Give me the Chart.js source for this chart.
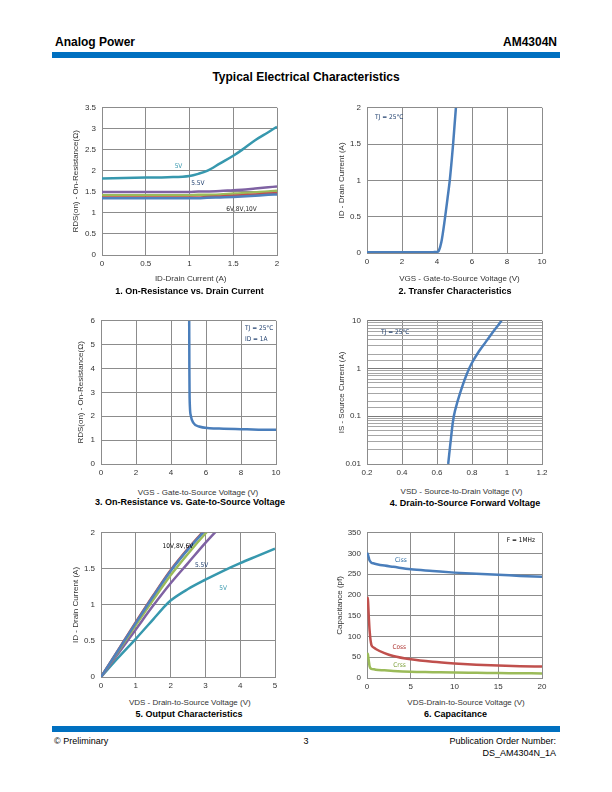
<!DOCTYPE html>
<html>
<head>
<meta charset="utf-8">
<script src="https://cdn.jsdelivr.net/npm/chart.js@4.4.1/dist/chart.umd.min.js"></script>
<style>
body { margin: 0; background: #fff; }
#page { position: relative; width: 612px; height: 792px; overflow: hidden; font-family: "Liberation Sans", Arial, sans-serif; color: #000; }
.t { position: absolute; white-space: nowrap; }
.bar { position: absolute; left: 52px; width: 508px; height: 6px; background: #0070C0; }
.cap { position: absolute; width: 240px; text-align: center; font-weight: bold; font-size: 9px; line-height: 12px; white-space: nowrap; }
.xt { position: absolute; width: 240px; text-align: center; font-size: 8px; line-height: 10px; color: #333; white-space: nowrap; }
canvas { position: absolute; }
</style>
</head>
<body>
<div id="page">
  <div class="t" style="left:55px;top:35px;font-size:12px;font-weight:bold;">Analog Power</div>
  <div class="t" style="right:55px;top:35px;font-size:12px;font-weight:bold;">AM4304N</div>
  <div class="bar" style="top:52px;"></div>
  <div class="t" style="left:0;width:612px;text-align:center;top:70px;font-size:12px;font-weight:bold;">Typical Electrical Characteristics</div>

  <canvas id="c1"></canvas>
  <canvas id="c2"></canvas>
  <canvas id="c3"></canvas>
  <canvas id="c4"></canvas>
  <canvas id="c5"></canvas>
  <canvas id="c6"></canvas>

  <div class="xt" style="left:70.7px;top:273.7px;">ID-Drain Current (A)</div>
  <div class="xt" style="left:339.5px;top:273.7px;">VGS - Gate-to-Source Voltage (V)</div>
  <div class="xt" style="left:78px;top:487.7px;">VGS - Gate-to-Source Voltage (V)</div>
  <div class="xt" style="left:341.5px;top:486.7px;">VSD - Source-to-Drain Voltage (V)</div>
  <div class="xt" style="left:69.8px;top:698.3px;">VDS - Drain-to-Source Voltage (V)</div>
  <div class="xt" style="left:346px;top:698.3px;">VDS-Drain-to-Source Voltage (V)</div>

  <div class="cap" style="left:69.5px;top:285px;">1. On-Resistance vs. Drain Current</div>
  <div class="cap" style="left:335px;top:284.7px;">2. Transfer Characteristics</div>
  <div class="cap" style="left:70px;top:495.5px;">3. On-Resistance vs. Gate-to-Source Voltage</div>
  <div class="cap" style="left:345px;top:496.7px;">4. Drain-to-Source Forward Voltage</div>
  <div class="cap" style="left:69px;top:707.5px;">5. Output Characteristics</div>
  <div class="cap" style="left:335.5px;top:708.3px;">6. Capacitance</div>

  <div class="bar" style="top:726px;"></div>
  <div class="t" style="left:54px;top:736px;font-size:9px;">© Preliminary</div>
  <div class="t" style="left:0;width:612px;text-align:center;top:736px;font-size:9px;">3</div>
  <div class="t" style="right:56px;top:736px;font-size:9px;text-align:right;line-height:11.7px;">Publication Order Number:<br>DS_AM4304N_1A</div>
</div>

<script>
// 1. RDS(on) vs drain current
const id1 = [0, 0.25, 0.5, 0.75, 1.0, 1.1, 1.2, 1.35, 1.5, 1.6, 1.75, 1.9, 2.0];
const rds1_5V  = [1.82, 1.83, 1.84, 1.85, 1.88, 1.93, 2.0, 2.18, 2.36, 2.5, 2.73, 2.92, 3.05];
const rds1_55V = [1.50, 1.50, 1.50, 1.50, 1.50, 1.51, 1.51, 1.52, 1.54, 1.55, 1.58, 1.61, 1.63];
const rds1_6V  = [1.42, 1.42, 1.42, 1.42, 1.42, 1.43, 1.43, 1.44, 1.46, 1.47, 1.49, 1.51, 1.53];
const rds1_8V  = [1.37, 1.37, 1.37, 1.37, 1.37, 1.37, 1.38, 1.39, 1.41, 1.42, 1.44, 1.46, 1.47];
const rds1_10V = [1.35, 1.35, 1.35, 1.35, 1.35, 1.35, 1.36, 1.37, 1.38, 1.39, 1.41, 1.43, 1.44];

// 2. transfer
const vgs2 = [0, 1, 2, 3, 3.8, 4.0, 4.1, 4.25, 4.45, 4.6, 4.73, 4.83, 4.92, 5.0, 5.08];
const id2  = [0.01, 0.01, 0.01, 0.01, 0.012, 0.015, 0.03, 0.15, 0.47, 0.75, 1.0, 1.25, 1.5, 1.75, 2.0];

// 3. RDS(on) vs VGS
const vgs3 = [5.04, 5.05, 5.06, 5.08, 5.14, 5.28, 5.6, 6.2, 7, 8, 9, 10];
const rds3 = [6.0, 4.0, 3.0, 2.4, 2.0, 1.72, 1.57, 1.5, 1.48, 1.46, 1.44, 1.43];

// 4. body diode forward voltage
const vsd4 = [0.664, 0.68, 0.696, 0.72, 0.746, 0.77, 0.797, 0.84, 0.883, 0.925, 0.969];
const is4  = [0.01, 0.035, 0.1, 0.22, 0.44, 0.76, 1.26, 2.3, 3.8, 6.2, 10];

// 5. output characteristics
const vds5 = [0, 0.5, 1, 1.5, 2, 2.5, 3, 3.5];
const id5_10V  = [0, 0.375, 0.75, 1.12, 1.47, 1.77, 2.04];
const id5_8V   = [0, 0.38, 0.76, 1.13, 1.48, 1.78, 2.05];
const id5_6V   = [0, 0.36, 0.72, 1.07, 1.41, 1.71, 1.99, 2.25];
const id5_55V  = [0, 0.33, 0.66, 0.99, 1.3, 1.58, 1.86, 2.12];
const vds5_5V  = [0, 0.5, 1, 1.5, 1.85, 2, 2.5, 3, 3.5, 4, 4.5, 5];
const id5_5V   = [0, 0.27, 0.53, 0.8, 0.99, 1.06, 1.22, 1.35, 1.47, 1.58, 1.68, 1.78];

// 6. capacitance
const vds6 = [0, 0.1, 0.2, 0.3, 0.5, 0.8, 1, 2, 3, 5, 7.5, 10, 12.5, 15, 17.5, 20];
const ciss = [302, 298, 290, 283, 278, 276, 275, 271, 268, 262, 258, 254, 251, 249, 246, 244];
const coss = [195, 190, 150, 114, 80, 73, 70, 60, 53, 45, 39, 35, 32, 30, 28.5, 27.5];
const crss = [60, 57, 42, 28, 22, 21, 20, 18.5, 17, 15, 14, 13, 12.5, 12, 11.5, 11];

const BLUE = '#4F81BD', RED = '#C0504D', GREEN = '#9BBB59', PURPLE = '#7F62A3', TEAL = '#3798AE';
const GRID = '#8c8c8c';
const NAVY = '#1F3F6E';
const noteFont = '6.5px "Liberation Sans Narrow", "DejaVu Sans Condensed", "Noto Sans", sans-serif';

Chart.defaults.font.family = '"Liberation Sans", Arial, sans-serif';
Chart.defaults.font.size = 8;
Chart.defaults.color = '#333';
Chart.defaults.animation = false;

const fmt = v => String(+Number(v).toFixed(2));
const isDecade = v => Math.abs(Math.log10(v) - Math.round(Math.log10(v))) < 1e-9;
const pts = (xs, ys) => ys.map((y, i) => ({ x: xs[i], y }));

function line(xs, ys, color, smooth) {
  const ds = { data: pts(xs, ys), borderColor: color, borderWidth: 2.5, pointRadius: 0, fill: false };
  if (smooth) ds.tension = smooth;
  else ds.cubicInterpolationMode = 'monotone';
  return ds;
}

// small text labels placed in data coordinates
function notes(items) {
  return {
    id: 'notes',
    afterDatasetsDraw(chart) {
      const { ctx, scales } = chart;
      ctx.save();
      ctx.textAlign = 'left';
      ctx.textBaseline = 'middle';
      items.forEach(n => {
        ctx.font = noteFont;
        ctx.fillStyle = n.color;
        ctx.fillText(n.text, scales.x.getPixelForValue(n.x), scales.y.getPixelForValue(n.y));
      });
      ctx.restore();
    }
  };
}

// g: plot rectangle in page pixels plus y-title centre
function build(id, g, spec) {
  const L = g.x0 - 42, T = g.y0 - 10;
  const W = Math.round(g.x1 + 14 - L), H = Math.round(g.y1 + 20 - T);
  const padL = g.yt - 4.8 - L;
  const cv = document.getElementById(id);
  cv.style.left = L + 'px'; cv.style.top = T + 'px';
  cv.style.width = W + 'px'; cv.style.height = H + 'px';
  cv.width = W; cv.height = H;

  const yAxis = spec.log ? {
    type: 'logarithmic', min: spec.y[0], max: spec.y[1],
    ticks: { autoSkip: false, padding: 6, callback: v => isDecade(v) ? fmt(v) : '' },
    grid: { drawTicks: false, color: c => isDecade(c.tick.value) ? '#7a7a7a' : '#a6a6a6' }
  } : {
    type: 'linear', min: spec.y[0], max: spec.y[1],
    ticks: { stepSize: spec.y[2], padding: 6, callback: fmt },
    grid: { drawTicks: false, color: GRID }
  };
  yAxis.border = { color: GRID };
  yAxis.title = { display: true, text: spec.yTitle, padding: 0, font: { size: 8 } };
  yAxis.afterFit = s => { s.width = g.x0 - L - padL; };

  return new Chart(cv, {
    type: 'line',
    data: { datasets: spec.datasets },
    options: {
      responsive: false,
      layout: { padding: { left: padL, top: 10, right: 14, bottom: 0 } },
      plugins: { legend: { display: false }, tooltip: { enabled: false } },
      scales: {
        x: {
          type: 'linear', min: spec.x[0], max: spec.x[1],
          ticks: { stepSize: spec.x[2], padding: 4, maxRotation: 0, autoSkip: false, callback: fmt },
          grid: { drawTicks: false, color: GRID },
          border: { color: GRID },
          afterFit: s => { s.height = T + H - g.y1; }
        },
        y: yAxis
      }
    },
    plugins: [notes(spec.notes || [])]
  });
}

build('c1', { x0: 102, y0: 107, x1: 277, y1: 255, yt: 76 }, {
  x: [0, 2, 0.5], y: [0, 3.5, 0.5], yTitle: 'RDS(on) - On-Resistance(Ω)',
  datasets: [
    line(id1, rds1_10V, BLUE), line(id1, rds1_8V, RED), line(id1, rds1_6V, GREEN),
    line(id1, rds1_55V, PURPLE), line(id1, rds1_5V, TEAL)
  ],
  notes: [
    { text: '5V', x: 0.83, y: 2.1, color: TEAL },
    { text: '5.5V', x: 1.02, y: 1.7, color: NAVY },
    { text: '6V,8V,10V', x: 1.42, y: 1.09, color: '#262626' }
  ]
});

build('c2', { x0: 367, y0: 107, x1: 542, y1: 253, yt: 341.7 }, {
  x: [0, 10, 2], y: [0, 2, 0.5], yTitle: 'ID - Drain Current (A)',
  datasets: [line(vgs2, id2, '#4A7EBB')],
  notes: [{ text: 'TJ = 25°C', x: 0.46, y: 1.87, color: NAVY }]
});

build('c3', { x0: 101, y0: 320, x1: 276, y1: 464, yt: 80.7 }, {
  x: [0, 10, 2], y: [0, 6, 1], yTitle: 'RDS(on) - On-Resistance(Ω)',
  datasets: [line(vgs3, rds3, '#4A7EBB')],
  notes: [
    { text: 'TJ = 25°C', x: 8.23, y: 5.7, color: NAVY },
    { text: 'ID = 1A', x: 8.23, y: 5.21, color: NAVY }
  ]
});

build('c4', { x0: 367, y0: 320, x1: 542, y1: 464, yt: 341.7 }, {
  x: [0.2, 1.2, 0.2], y: [0.01, 10], log: true, yTitle: 'IS - Source Current (A)',
  datasets: [line(vsd4, is4, '#4A7EBB', 0.4)],
  notes: [{ text: 'TJ = 25°C', x: 0.28, y: 5.7, color: NAVY }]
});

build('c5', { x0: 101, y0: 532, x1: 275, y1: 677, yt: 76 }, {
  x: [0, 5, 1], y: [0, 2, 0.5], yTitle: 'ID - Drain Current (A)',
  datasets: [
    line(vds5, id5_10V, BLUE), line(vds5, id5_8V, RED), line(vds5, id5_6V, GREEN),
    line(vds5, id5_55V, PURPLE), line(vds5_5V, id5_5V, TEAL)
  ],
  notes: [
    { text: '10V,8V,6V', x: 1.77, y: 1.81, color: '#000' },
    { text: '5.5V', x: 2.7, y: 1.545, color: NAVY },
    { text: '5V', x: 3.4, y: 1.23, color: TEAL }
  ]
});

build('c6', { x0: 367, y0: 532, x1: 542, y1: 678, yt: 340 }, {
  x: [0, 20, 5], y: [0, 350, 50], yTitle: 'Capacitance (pf)',
  datasets: [line(vds6, ciss, '#4A7EBB'), line(vds6, coss, RED), line(vds6, crss, GREEN)],
  notes: [
    { text: 'Ciss', x: 3.2, y: 284, color: '#2E6DA4' },
    { text: 'Coss', x: 2.9, y: 73.6, color: '#B03A37' },
    { text: 'Crss', x: 3.0, y: 29.5, color: '#7FA23D' },
    { text: 'F = 1MHz', x: 15.97, y: 332, color: '#000' }
  ]
});
</script>
</body>
</html>
